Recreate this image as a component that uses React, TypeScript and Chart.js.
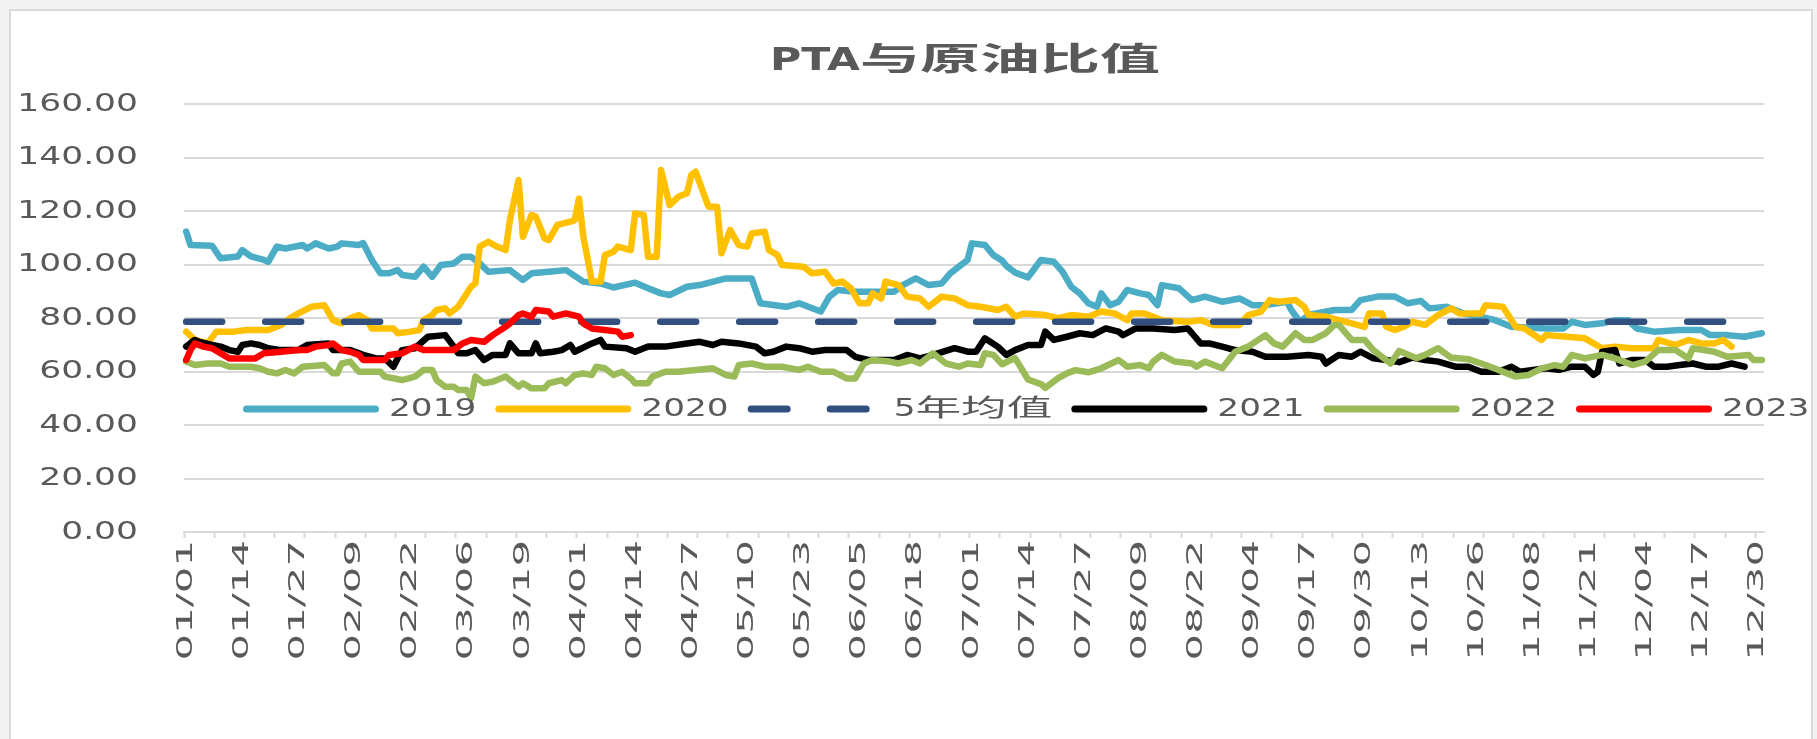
import React, { useEffect, useRef } from "react";
import { Chart, registerables } from "chart.js";

Chart.register(...registerables);

// ---------- data ----------
const MONTH_DAYS = [31, 29, 31, 30, 31, 30, 31, 31, 30, 31, 30, 31];
const TICK_LABELS = [
  "01/01", "01/14", "01/27", "02/09", "02/22", "03/06", "03/19", "04/01", "04/14", "04/27",
  "05/10", "05/23", "06/05", "06/18", "07/01", "07/14", "07/27", "08/09", "08/22", "09/04",
  "09/17", "09/30", "10/13", "10/26", "11/08", "11/21", "12/04", "12/17", "12/30",
];
const TITLE = "PTA与原油比值";
const SERIES_NAMES = ["2019", "2020", "5年均值", "2021", "2022", "2023"];
const SERIES_COLORS = ["#4bacc6", "#ffc000", "#31507f", "#000000", "#9bbb59", "#ff0000"];
const Y_MIN = 0;
const Y_MAX = 160;
const Y_STEP = 20;

// [day index of year, value]
const VALUES_2019 = [
  [0, 112.3], [1, 107.3], [6, 107], [8, 102.3], [12, 103], [13, 105.4], [15, 103], [18, 101.7], [19, 101],
  [21, 106.7], [23, 106], [27, 107.3], [28, 106], [30, 107.9], [33, 106], [35, 106.7], [36, 107.9], [40, 107.3],
  [41, 108], [43, 101.7], [45, 96.7], [47, 96.7], [49, 97.9], [50, 96.1], [53, 95.4], [55, 99.2], [57, 95.4],
  [59, 99.8], [62, 100.4], [64, 102.9], [66, 102.9], [68, 100.4], [70, 97.3], [75, 97.9], [78, 94.2], [80, 96.7],
  [84, 97.3], [88, 97.9], [92, 93.6], [96, 92.9], [99, 91.4], [104, 93.2], [107, 91.1], [110, 89.2], [112, 88.6],
  [116, 91.7], [119, 92.3], [125, 94.8], [131, 94.8], [133, 85.5], [139, 84.2], [142, 85.5], [147, 82.4], [149, 88],
  [151, 90.5], [155, 89.8], [158, 89.8], [164, 89.8], [166, 92.3], [169, 94.8], [172, 92.3], [175, 92.9], [177, 96.7],
  [179, 99.2], [181, 101.7], [182, 107.9], [185, 107.3], [187, 103.5], [189, 101.5], [190, 99.5], [192, 97], [195, 95.2],
  [198, 101.7], [201, 101], [203, 97.3], [205, 91.7], [207, 89.2], [209, 85.5], [211, 84.2], [212, 89.2], [214, 84.8],
  [216, 86.1], [218, 90.5], [221, 89.2], [223, 88.6], [225, 84.8], [226, 92.3], [230, 91.1], [233, 86.7], [236, 88],
  [240, 86.1], [244, 87.3], [247, 84.8], [250, 84.8], [255, 86.1], [256, 83], [258, 78.6], [260, 81.1], [266, 83],
  [270, 83], [272, 86.7], [276, 88], [280, 88], [283, 85.5], [286, 86.4], [288, 83.6], [292, 84.2], [296, 81.7],
  [301, 80], [303, 79.3], [307, 76.7], [315, 76.1], [319, 76.1], [321, 78.6], [324, 77.4], [328, 78], [331, 79.2],
  [334, 79.2], [336, 76.1], [340, 74.9], [346, 75.5], [351, 75.5], [353, 73.6], [357, 73.6], [361, 73], [365, 74.3],
];
const VALUES_2020 = [
  [0, 74.9], [2, 71.8], [5, 70.5], [7, 74.9], [11, 74.9], [14, 75.5], [19, 75.5], [22, 77.4], [24, 79.9], [26, 81.7],
  [29, 84.2], [32, 84.8], [34, 79.2], [36, 78], [38, 79.9], [40, 81.1], [42, 79.2], [43, 76.1], [48, 76.1], [49, 74.3],
  [52, 74.9], [54, 75.5], [55, 79.2], [57, 81.1], [58, 83], [60, 83.6], [61, 81.7], [63, 84.2], [65, 89.2], [66, 91.7],
  [67, 92.9], [68, 106.7], [70, 108.5], [72, 106.7], [74, 105.4], [75, 116.6], [77, 131.6], [78, 110.4], [80, 118.5],
  [81, 117.9], [83, 109.8], [84, 109.1], [86, 114.8], [89, 116], [90, 116.6], [91, 124.7], [92, 110.4], [94, 93.6],
  [96, 93.6], [97, 103.5], [99, 104.8], [100, 106.7], [103, 105.4], [104, 119.1], [106, 118.5], [107, 102.9],
  [109, 102.9], [110, 135.3], [112, 122.2], [114, 125.3], [116, 126.6], [117, 133.4], [118, 134.7], [121, 121.6],
  [123, 121.6], [124, 104.2], [126, 112.9], [128, 107.3], [130, 106.7], [131, 111.6], [134, 112.3], [135, 105.4],
  [137, 103.5], [138, 99.8], [143, 99.2], [145, 96.7], [148, 97.3], [150, 92.9], [152, 93.6], [154, 91.1], [156, 85.5],
  [158, 85.5], [159, 89.2], [161, 87.3], [162, 93.6], [165, 92.3], [167, 88], [170, 87.3], [172, 84.2], [175, 88],
  [178, 87.3], [181, 84.8], [184, 84.2], [188, 83], [190, 84.2], [192, 80.5], [194, 81.7], [199, 81.1], [202, 79.9],
  [205, 81.1], [209, 80.5], [212, 82.4], [215, 81.7], [218, 79.2], [219, 81.7], [222, 81.7], [226, 79.2], [232, 78.6],
  [235, 79.2], [238, 77.4], [244, 77.4], [246, 81.1], [249, 82.4], [251, 86.7], [253, 86.1], [257, 86.7], [259, 84.2],
  [260, 81.1], [264, 80.5], [267, 79.2], [270, 78], [273, 76.7], [274, 81.7], [277, 81.7], [278, 76.7], [280, 75.5],
  [282, 76.7], [284, 78.6], [287, 77.4], [290, 81.1], [293, 83.6], [295, 81.7], [300, 81.7], [301, 84.8], [305, 84.2],
  [308, 76.7], [310, 76.1], [314, 71.8], [315, 73.6], [320, 73], [324, 72.4], [328, 68.7], [331, 69.3], [335, 68.7],
  [340, 68.7], [341, 71.8], [345, 69.9], [348, 71.8], [351, 70.5], [354, 70.5], [356, 71.8], [358, 69.3],
];
const VALUES_5Y_AVG = [[0, 78.6], [365, 78.6]];
const VALUES_2021 = [
  [0, 69.3], [2, 71.8], [3, 71.1], [6, 69.9], [8, 69.3], [10, 68], [12, 67.4], [13, 69.9], [15, 70.5], [17, 69.9],
  [19, 68.7], [22, 68], [26, 68], [28, 69.9], [33, 70.5], [34, 68], [38, 68], [41, 66.2], [44, 64.9], [46, 64.9],
  [48, 61.8], [50, 68], [53, 68.7], [56, 73], [60, 73.6], [62, 69.3], [63, 66.8], [65, 66.8], [67, 68], [69, 64.3],
  [71, 66.2], [74, 66.2], [75, 70.5], [77, 66.8], [80, 66.8], [81, 70.5], [82, 66.8], [85, 67.4], [87, 68], [89, 69.9],
  [90, 67.4], [94, 70.5], [96, 71.8], [97, 69.3], [102, 68.7], [104, 67.4], [106, 68.7], [107, 69.3], [111, 69.3],
  [116, 70.5], [119, 71.1], [122, 69.9], [124, 71.1], [128, 70.5], [132, 69.3], [134, 66.8], [136, 67.4], [139, 69.3],
  [142, 68.7], [145, 67.4], [148, 68], [153, 68], [155, 65.5], [158, 64.3], [164, 64.3], [167, 66.2], [170, 64.9],
  [173, 66.2], [178, 68.7], [181, 67.4], [183, 67.4], [185, 72.4], [188, 69.3], [190, 66.2], [192, 68], [195, 69.9],
  [198, 69.9], [199, 74.9], [201, 71.8], [204, 73], [207, 74.3], [210, 73.6], [213, 76.1], [216, 74.9], [217, 73.6],
  [220, 76.1], [224, 76.1], [229, 75.5], [232, 76.1], [233, 74.3], [235, 70.5], [237, 70.5], [240, 69.3], [243, 68],
  [247, 67.4], [250, 65.5], [255, 65.5], [260, 66.2], [263, 65.5], [264, 63], [267, 66.2], [270, 65.5], [272, 67.4],
  [275, 64.9], [278, 64.3], [281, 63.5], [284, 65.2], [287, 64.3], [290, 63.7], [294, 61.8], [297, 61.8], [300, 59.9],
  [304, 59.9], [307, 61.8], [309, 59.9], [312, 60.6], [315, 61.2], [318, 60.6], [321, 61.8], [324, 61.8], [326, 58.7],
  [327, 59.9], [328, 67.4], [331, 68], [332, 63], [335, 64.3], [338, 64.3], [340, 61.8], [343, 61.8], [346, 62.4],
  [349, 63], [352, 61.8], [355, 61.8], [358, 63], [361, 61.8],
];
const VALUES_2022 = [
  [0, 63.7], [2, 62.4], [5, 63], [8, 63], [10, 61.8], [15, 61.8], [17, 61.2], [19, 59.9], [21, 59.3], [23, 60.6],
  [25, 59.3], [27, 61.8], [32, 62.4], [34, 59.3], [35, 59.3], [36, 63], [38, 63.7], [40, 59.9], [45, 59.9], [46, 58.1],
  [50, 56.8], [53, 58.1], [55, 60.6], [57, 60.6], [58, 56.8], [60, 54.3], [62, 54.3], [63, 53.1], [65, 53.1], [66, 50],
  [67, 58.1], [69, 55.6], [71, 56.2], [74, 58.1], [75, 56.8], [77, 54.3], [78, 55.6], [80, 53.7], [83, 53.7], [84, 55.6],
  [87, 56.8], [88, 55.6], [90, 58.7], [92, 59.3], [94, 58.7], [95, 61.8], [97, 61.2], [99, 58.7], [101, 59.9], [103, 57.4],
  [104, 55.6], [107, 55.6], [108, 58.1], [111, 59.9], [114, 59.9], [118, 60.6], [122, 61.2], [125, 58.7], [127, 58.1],
  [128, 62.4], [131, 63], [134, 61.8], [138, 61.8], [142, 60.6], [144, 61.8], [147, 59.9], [150, 59.9], [153, 57.4],
  [155, 57.4], [157, 63], [159, 64.3], [163, 63.7], [165, 63], [168, 64.3], [170, 63], [173, 66.8], [176, 63], [179, 61.8],
  [181, 63], [184, 62.4], [185, 66.8], [187, 66.2], [189, 62.7], [192, 65], [193, 62.4], [195, 57], [198, 55.3],
  [199, 53.9], [202, 57.5], [204, 59.3], [206, 60.5], [209, 59.7], [212, 61.2], [216, 64.3], [218, 61.8], [221, 62.4],
  [223, 61.2], [224, 63.7], [226, 66.2], [229, 63.7], [233, 63], [234, 61.8], [236, 63.7], [240, 61.2], [243, 67.4],
  [246, 69.3], [250, 73.6], [252, 70.5], [254, 69.3], [257, 74.3], [259, 71.8], [261, 71.8], [264, 74.3], [266, 77.4],
  [267, 77.4], [270, 71.8], [273, 71.8], [275, 68], [279, 63], [281, 67.7], [285, 65], [287, 66.2], [290, 68.7],
  [293, 65.2], [297, 64.6], [300, 63], [303, 61.2], [306, 59.3], [308, 58.1], [311, 58.7], [314, 61.2], [317, 62.4],
  [319, 61.8], [321, 66.2], [324, 64.9], [328, 66.2], [331, 64.9], [335, 62.4], [338, 63.7], [341, 68], [345, 68],
  [348, 64.9], [349, 68.7], [354, 67.4], [357, 65.5], [362, 66.2], [363, 64.3], [365, 64.3],
];
const VALUES_2023 = [
  [0, 64.3], [1, 68], [2, 70.5], [4, 69.3], [6, 68.7], [10, 64.9], [16, 64.9], [18, 66.8], [22, 67.4], [26, 68],
  [28, 68], [30, 69.3], [33, 69.9], [34, 70.5], [36, 68], [38, 67.4], [40, 66.2], [41, 64.3], [46, 64.3], [47, 66.2],
  [50, 66.8], [53, 69.3], [55, 68], [58, 68], [62, 68], [64, 70.5], [66, 71.8], [69, 71.1], [71, 73.6], [74, 76.7],
  [75, 78], [77, 81.1], [78, 81.7], [80, 80.5], [81, 83], [84, 82.4], [85, 80.5], [88, 81.7], [91, 80.5], [92, 78],
  [94, 76.1], [97, 75.5], [100, 74.9], [101, 73], [103, 73.6],
];
const SERIES_VALUES = [VALUES_2019, VALUES_2020, VALUES_5Y_AVG, VALUES_2021, VALUES_2022, VALUES_2023];

// ---------- helpers ----------
const SX_YTICK = 1.38;
const SX_XTICK = 1.9;

function buildCategories(): string[] {
  const out: string[] = [];
  MONTH_DAYS.forEach((n, m) => {
    for (let d = 1; d <= n; d++) {
      out.push(String(m + 1).padStart(2, "0") + "/" + String(d).padStart(2, "0"));
    }
  });
  return out;
}

function toDaily(points: number[][], n: number): (number | null)[] {
  const arr: (number | null)[] = new Array(n).fill(null);
  for (const [d, v] of points) arr[d] = v;
  return arr;
}

const CJK_RE = /[\u2e80-\u9fff\uf900-\ufaff\uff00-\uffef]/;

function splitRuns(text: string) {
  const runs: { t: string; cjk: boolean }[] = [];
  for (const ch of text) {
    const c = CJK_RE.test(ch);
    if (runs.length && runs[runs.length - 1].cjk === c) runs[runs.length - 1].t += ch;
    else runs.push({ t: ch, cjk: c });
  }
  return runs;
}

function drawStretched(ctx: any, text: string, x: number, y: number, align: string, sxLat: number, sxCjk: number) {
  const raw = ctx.__rawFill || ctx.fillText;
  const runs = splitRuns(text).map((r) => ({
    ...r,
    sx: r.cjk ? sxCjk : sxLat,
    w: ctx.measureText(r.t).width * (r.cjk ? sxCjk : sxLat),
  }));
  const total = runs.reduce((a, r) => a + r.w, 0);
  let cx = align === "center" ? x - total / 2 : align === "right" ? x - total : x;
  ctx.textAlign = "left";
  for (const r of runs) {
    ctx.save();
    ctx.translate(cx, y);
    ctx.scale(r.sx, 1);
    raw.call(ctx, r.t, 0, 0);
    ctx.restore();
    cx += r.w;
  }
  return total;
}

const decorPlugin = {
  id: "decor",
  afterDraw(chart: any) {
    const ctx = chart.ctx;
    ctx.save();
    ctx.fillStyle = "#595959";
    ctx.textBaseline = "middle";
    ctx.font = 'bold 32px "DejaVu Sans", "Noto Sans CJK SC", sans-serif';
    drawStretched(ctx, TITLE, 965, 62, "center", 1.33, 1.875);

    ctx.font = '24px "DejaVu Sans", "Noto Sans CJK SC", sans-serif';
    let x = 243;
    const y = 409;
    chart.data.datasets.forEach((ds: any) => {
      ctx.save();
      ctx.strokeStyle = ds.borderColor;
      ctx.lineWidth = 7;
      ctx.lineCap = "round";
      ctx.setLineDash(ds.borderDash || []);
      ctx.beginPath();
      ctx.moveTo(x + 3.5, y);
      ctx.lineTo(x + 132.5, y);
      ctx.stroke();
      ctx.restore();
      ctx.fillStyle = "#595959";
      const w = drawStretched(ctx, ds.label, x + 146, y + 1, "left", 1.43, 1.9);
      x = x + 146 + w + 19;
    });
    ctx.restore();
  },
};

export default function App() {
  const ref = useRef<HTMLCanvasElement | null>(null);

  useEffect(() => {
    const canvas = ref.current;
    if (!canvas) return;
    const ctx: any = canvas.getContext("2d");
    if (!ctx.__rawFill) {
      const raw = ctx.fillText;
      ctx.__rawFill = raw;
      ctx.fillText = function (text: string, x: number, y: number) {
        const m = this.getTransform();
        const sx = Math.abs(m.b) > 1e-3 ? SX_XTICK : SX_YTICK;
        this.save();
        this.translate(x, y);
        this.scale(sx, 1);
        raw.call(this, text, 0, 0);
        this.restore();
      };
    }

    const categories = buildCategories();
    const tickSet = new Set(TICK_LABELS);
    const datasets = SERIES_NAMES.map((name, i) => ({
      label: name,
      data: toDaily(SERIES_VALUES[i], categories.length),
      borderColor: SERIES_COLORS[i],
      backgroundColor: SERIES_COLORS[i],
      borderWidth: 6.5,
      borderDash: i === 2 ? [36, 43] : [],
      borderCapStyle: "round",
      borderJoinStyle: "round",
      pointRadius: 0,
      pointHoverRadius: 0,
      tension: 0,
      spanGaps: true,
      fill: false,
      order: SERIES_NAMES.length - 1 - i,
    }));

    const chart = new Chart(canvas, {
      type: "line",
      data: { labels: categories, datasets: datasets as any },
      options: {
        responsive: false,
        animation: false,
        devicePixelRatio: 1,
        events: [],
        layout: { padding: { left: 10, right: 53, top: 104, bottom: 20 } },
        plugins: {
          legend: { display: false },
          title: { display: false },
          tooltip: { enabled: false },
        },
        scales: {
          x: {
            type: "category",
            offset: true,
            afterFit: (s: any) => {
              s.height = 187;
            },
            border: { display: true, color: "#d9d9d9", width: 2 },
            grid: {
              offset: true,
              drawOnChartArea: false,
              drawTicks: true,
              tickLength: 6,
              tickWidth: 2,
              color: (c: any) => (c.index % 7 === 0 ? "#d9d9d9" : "rgba(0,0,0,0)"),
            },
            ticks: {
              autoSkip: false,
              minRotation: 90,
              maxRotation: 90,
              padding: 2,
              color: "#595959",
              font: { family: "DejaVu Sans", size: 22 },
              callback: (_v: any, idx: number) => (tickSet.has(categories[idx]) ? categories[idx] : ""),
            },
          },
          y: {
            min: Y_MIN,
            max: Y_MAX,
            afterFit: (s: any) => {
              s.width = 174;
            },
            border: { display: false },
            grid: { color: "#d9d9d9", lineWidth: 2, drawTicks: false },
            ticks: {
              stepSize: Y_STEP,
              padding: 46,
              color: "#595959",
              font: { family: "DejaVu Sans", size: 25 },
              callback: (v: any) => Number(v).toFixed(2),
            },
          },
        },
      },
      plugins: [decorPlugin],
    } as any);

    return () => chart.destroy();
  }, []);

  return (
    <div
      style={{
        position: "fixed",
        left: 0,
        top: 0,
        width: 1817,
        height: 739,
        background: "#f2f2f2",
        overflow: "hidden",
      }}
    >
      <div
        style={{
          position: "absolute",
          left: 9,
          top: 9,
          width: 1804,
          height: 760,
          background: "#ffffff",
          border: "2px solid #d9d9d9",
          boxSizing: "border-box",
        }}
      />
      <canvas
        ref={ref}
        width={1817}
        height={739}
        style={{ position: "absolute", left: 0, top: 0, width: 1817, height: 739 }}
      />
    </div>
  );
}
